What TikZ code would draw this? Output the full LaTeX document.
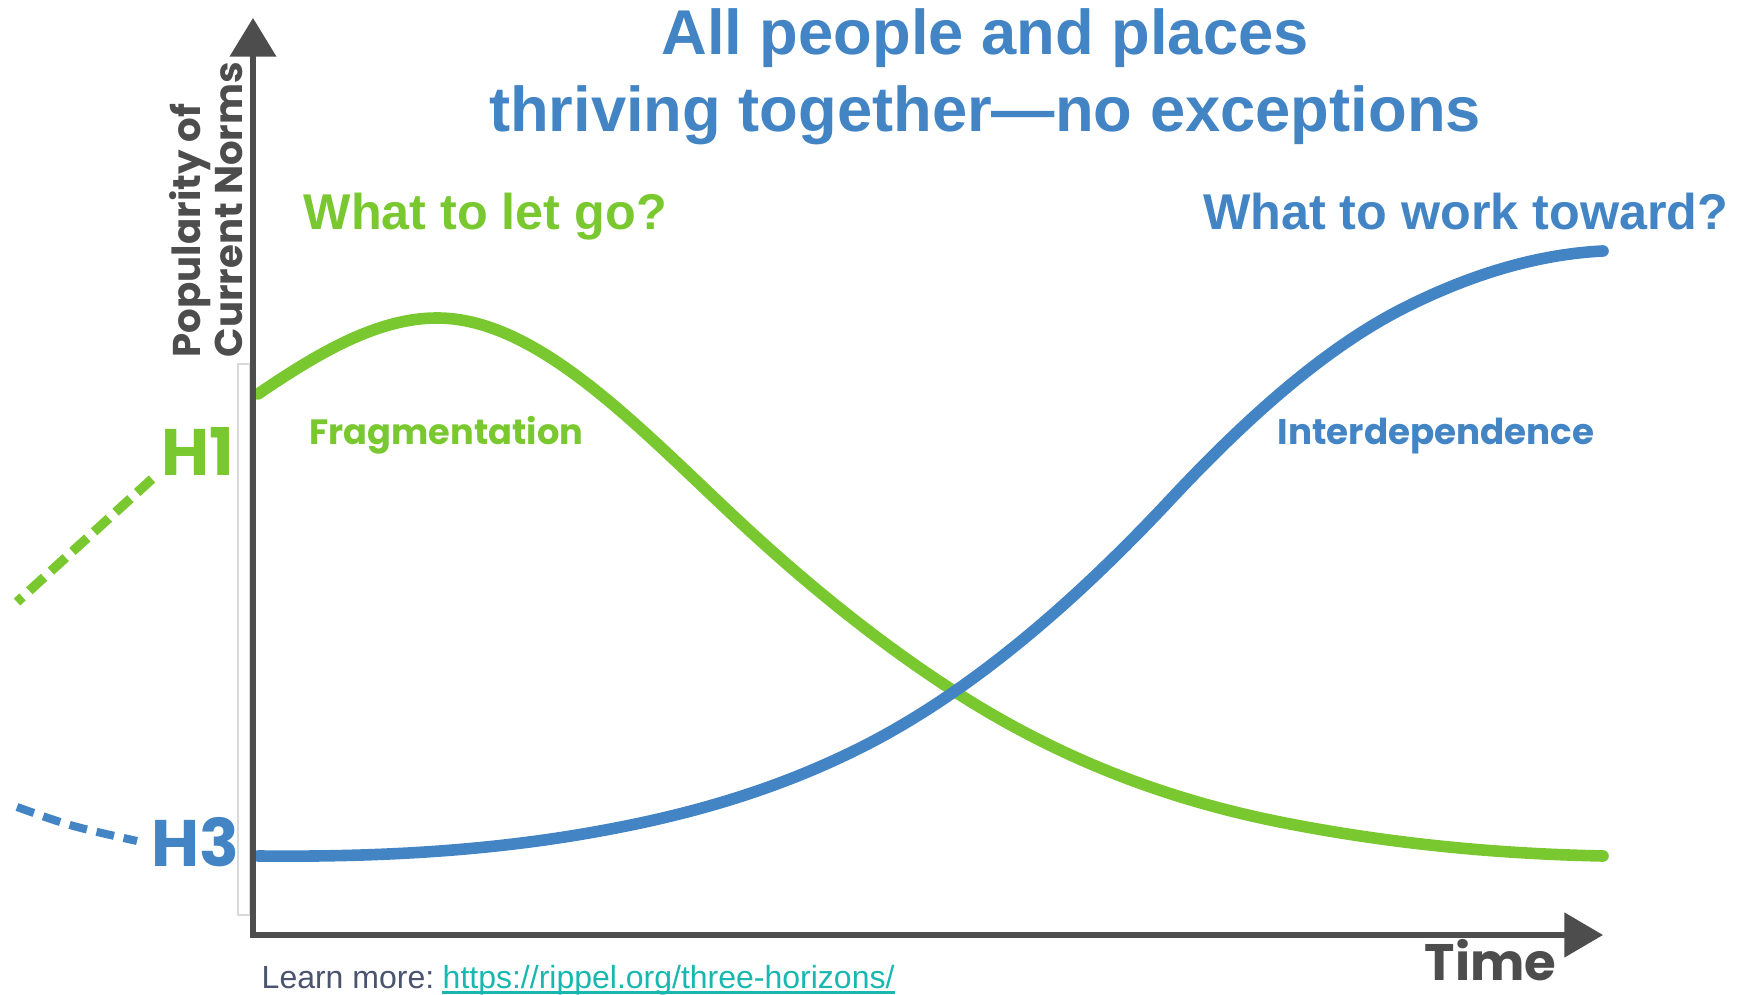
\documentclass[tikz,border=0pt]{standalone}
\usepackage{fontspec}
\setmainfont{Liberation Sans}
\newfontfamily\normsfont{Poppins}
\usetikzlibrary{arrows.meta}

\definecolor{hgreen}{RGB}{122,200,48}
\definecolor{hblue}{RGB}{66,132,196}
\definecolor{axisgray}{RGB}{77,77,77}
\definecolor{linkteal}{RGB}{24,184,176}
\definecolor{notegray}{RGB}{74,84,110}

\begin{document}
\begin{tikzpicture}[x=0.01cm,y=-0.01cm,
    curve/.style={line width=3.3pt,line cap=round},
    horizon/.style={line width=2.7pt,dash pattern=on 5.7pt off 2.6pt},
    axis/.style={axisgray,line width=1.45pt,{Triangle[length=11pt,width=13pt]}-{Triangle[length=11pt,width=12.5pt]}},
    title/.style={hblue,font=\bfseries\fontsize{18}{22}\selectfont,anchor=base,inner sep=0pt},
    question/.style={font=\bfseries\fontsize{14.3}{17}\selectfont,inner sep=0pt},
    tag/.style={font=\normsfont\bfseries\fontsize{10}{12}\selectfont,anchor=base west,inner sep=0pt},
    hlabel/.style={font=\normsfont\bfseries\fontsize{18.7}{22}\selectfont,anchor=base east,inner sep=0pt},
    norms/.style={axisgray,font=\normsfont\bfseries\fontsize{11}{12}\selectfont,rotate=90,anchor=base west,inner sep=0pt}]
    \useasboundingbox (0,0) rectangle (1739,995);
    \draw[gray!30,line width=0.3pt] (238,364) rectangle (250,915);
    % the two horizons
    \draw[curve,hgreen] (258,394) .. controls (317.7,353.4) and (377.3,318) .. (437,318)
        .. controls (538,318) and (639,428) .. (740,522)
        .. controls (812.3,589.2) and (884.7,646.7) .. (957,693)
        .. controls (1064.7,761.9) and (1172.3,800.5) .. (1280,822)
        .. controls (1387.7,843.5) and (1495.3,853.8) .. (1603,856);
    \draw[curve,hblue] (258,856) .. controls (366.3,857.1) and (474.7,852.4) .. (583,834)
        .. controls (675.3,818.3) and (767.7,794.2) .. (860,748)
        .. controls (963.3,696.3) and (1066.7,610.5) .. (1170,500)
        .. controls (1248.7,415.8) and (1327.3,346.3) .. (1406,307)
        .. controls (1471.7,274.2) and (1537.3,254.3) .. (1603,251);
    \draw[axis] (253,18) -- (253,935) -- (1603,935);
    \node[title] (title1) at (985,55) {All people and places};
    \node[title] (title2) at (985,132) {thriving together—no exceptions};
    \node[question,hgreen,anchor=base west] (letgo) at (303,230) {What to let go?};
    \node[question,hblue,anchor=base east] (toward) at (1729,230) {What to work toward?};
    \node[tag,hgreen] (frag) at (309,445) {Fragmentation};
    \node[tag,hblue,font=\normsfont\bfseries\fontsize{10.15}{12}\selectfont] (inter) at (1277,445) {Interdependence};
    \node[hlabel,hgreen] (hone) at (235,476) {H1};
    \node[hlabel,hblue] (hthree) at (240,867) {H3};
    % dashed lead-ins from the left
    \coordinate (gnear) at (152,479);
    \coordinate (gfar) at (17,602);
    \coordinate (bnear) at (137,841);
    \coordinate (bfar) at (17,807);
    \draw[horizon,hgreen] (gnear) -- (gfar);
    \draw[horizon,hblue,line width=2.3pt,dash pattern=on 5.1pt off 2.8pt] (bfar) .. controls (70,826) .. (bnear);
    \node[norms] (normsA) at (200,358) {Popularity of};
    \node[norms] (normsB) at (242,358) {Current Norms};
    \node[axisgray,font=\normsfont\bfseries\fontsize{14.6}{18}\selectfont,anchor=base west,inner sep=0pt] (time) at (1424,981) {Time};
    \node[notegray,font=\fontsize{9.1}{11}\selectfont,anchor=base west,inner sep=0pt] (learn) at (261,989) {Learn more:};
    \node[linkteal,font=\fontsize{9.1}{11}\selectfont,anchor=base west,inner sep=0pt] (link) at (442,989) {https://rippel.org/three-horizons/};
    \draw[linkteal,line width=0.6pt] ([yshift=-1pt]link.base west) -- ([yshift=-1pt]link.base east);
\end{tikzpicture}
\end{document}
